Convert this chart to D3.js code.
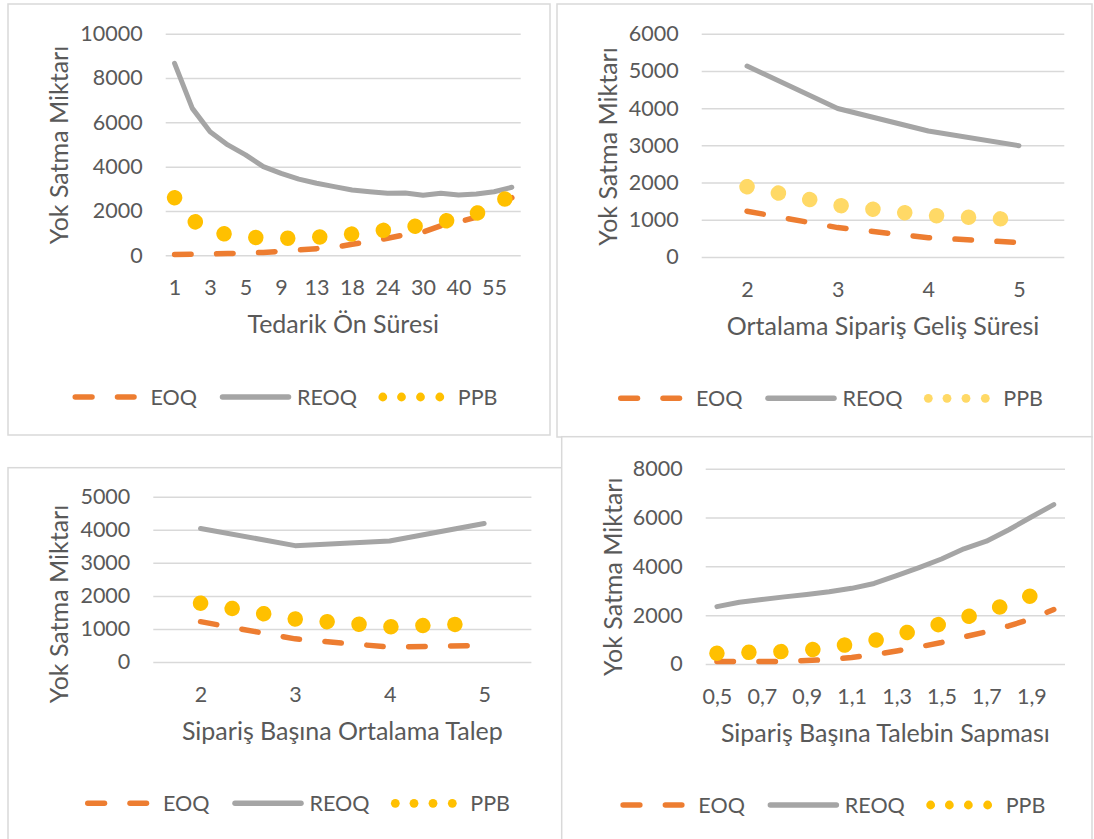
<!DOCTYPE html>
<html>
<head>
<meta charset="utf-8">
<script src="https://cdn.jsdelivr.net/npm/d3@7/dist/d3.min.js"></script>
<style>
  html, body { margin: 0; padding: 0; background: #fff; }
  svg { display: block; font-family: Lato, "Open Sans", sans-serif; }
</style>
</head>
<body>
<svg id="chart" width="1094" height="839"></svg>
<script>
// ---------- DATA ----------
const seriesNames = ["EOQ", "REOQ", "PPB"];
const yAxisTitle = "Yok Satma Miktarı";

// Panel 1: Tedarik Ön Süresi
const p1Categories = ["1","2","3","4","5","7","9","11","13","15","18","21","24","27","30","35","40","50","55","60"];
const p1EOQ  = [40, 45, 60, 80, 100, 130, 180, 240, 300, 360, 500, 620, 770, 930, 1050, 1330, 1500, 1720, 2200, 2600];
const p1REOQ = [8660, 6630, 5580, 4980, 4530, 4000, 3700, 3440, 3250, 3100, 2950, 2870, 2800, 2810, 2710, 2800, 2720, 2770, 2870, 3070];
const p1PPB  = [2600, 1600, 1050, 950, 820, 790, 770, 775, 820, 860, 960, 1050, 1150, 1260, 1350, 1520, 1640, 1900, 2060, 2850];

// Panel 2: Ortalama Sipariş Geliş Süresi
const p2Categories = ["2","3","4","5"];
const p2EOQ  = [1230, 790, 520, 390];
const p2REOQ = [5130, 3990, 3385, 2990];
const p2PPB  = [1890, 1390, 1120, 1000];

// Panel 3: Sipariş Başına Ortalama Talep
const p3Categories = ["2","3","4","5"];
const p3EOQ  = [1220, 700, 450, 500];
const p3REOQ = [4040, 3520, 3660, 4190];
const p3PPB  = [1780, 1300, 1065, 1170];

// Panel 4: Sipariş Başına Talebin Sapması
const p4Categories = ["0,5","0,6","0,7","0,8","0,9","1","1,1","1,2","1,3","1,4","1,5","1,6","1,7","1,8","1,9","2"];
const p4EOQ  = [100, 100, 100, 110, 140, 180, 265, 380, 530, 700, 880, 1110, 1320, 1560, 1850, 2230];
const p4REOQ = [2350, 2530, 2640, 2750, 2850, 2960, 3100, 3300, 3620, 3950, 4300, 4720, 5030, 5500, 6020, 6530];
const p4PPB  = [437, 470, 490, 510, 560, 680, 820, 960, 1200, 1400, 1650, 1900, 2130, 2470, 2800, 3150];

// Axis tick values
const p1YTicks = [0, 2000, 4000, 6000, 8000, 10000];
const p2YTicks = [0, 1000, 2000, 3000, 4000, 5000, 6000];
const p3YTicks = [0, 1000, 2000, 3000, 4000, 5000];
const p4YTicks = [0, 2000, 4000, 6000, 8000];

const xTitles = ["Tedarik Ön Süresi", "Ortalama Sipariş Geliş Süresi", "Sipariş Başına Ortalama Talep", "Sipariş Başına Talebin Sapması"];

// ---------- LAYOUT / STYLE ----------
const TEXT = "#595959", GRID = "#D9D9D9", BORDER = "#D9D9D9";
const C_EOQ = "#ED7D31", C_REOQ = "#A5A5A5";
const FS_TICK = 21.5, FS_TITLE = 25, FS_LEGEND = 21.5;

const panels = [
  { cats: p1Categories, eoq: p1EOQ, reoq: p1REOQ, ppb: p1PPB, yTicks: p1YTicks, every: 2, xTitle: xTitles[0],
    ppbColor: "#FFC000", box: [8, 4, 550, 435], plot: [165.7, 33.7, 520.7, 255.3], yTitleY: 145, legendY: 397 },
  { cats: p2Categories, eoq: p2EOQ, reoq: p2REOQ, ppb: p2PPB, yTicks: p2YTicks, every: 1, xTitle: xTitles[1],
    ppbColor: "#FFD966", box: [557, 4, 1092, 437], plot: [701.7, 33.7, 1064.3, 257], yTitleY: 146.5, legendY: 398.3 },
  { cats: p3Categories, eoq: p3EOQ, reoq: p3REOQ, ppb: p3PPB, yTicks: p3YTicks, every: 1, xTitle: xTitles[2],
    ppbColor: "#FFC000", box: [8, 467.7, 575, 870], plot: [153.3, 496.7, 531.4, 662], yTitleY: 604, legendY: 803.3 },
  { cats: p4Categories, eoq: p4EOQ, reoq: p4REOQ, ppb: p4PPB, yTicks: p4YTicks, every: 2, xTitle: xTitles[3],
    ppbColor: "#FFC000", box: [561.7, 436.7, 1092, 870], plot: [705.7, 468.7, 1065, 664], yTitleY: 576.7, legendY: 805 }
];

const svg = d3.select("#chart");
svg.append("rect").attr("width", 1094).attr("height", 839).attr("fill", "#fff");

panels.forEach(p => {
  const [bx0, by0, bx1, by1] = p.box;
  const [px0, py0, px1, py1] = p.plot;
  const g = svg.append("g");

  g.append("rect")
    .attr("x", bx0).attr("y", by0).attr("width", bx1 - bx0).attr("height", by1 - by0)
    .attr("fill", "#fff").attr("stroke", BORDER).attr("stroke-width", 1.5);

  const x = d3.scalePoint().domain(p.cats).range([px0, px1]).padding(0.5);
  const y = d3.scaleLinear().domain([0, d3.max(p.yTicks)]).range([py1, py0]);

  // Y axis with gridlines
  const ya = g.append("g").attr("transform", `translate(${px0},0)`)
    .call(d3.axisLeft(y).tickValues(p.yTicks).tickSize(-(px1 - px0)).tickPadding(23).tickFormat(d3.format("d")));
  ya.select(".domain").remove();
  ya.selectAll(".tick line").attr("stroke", GRID).attr("stroke-width", 1.5);
  ya.selectAll(".tick text").attr("fill", TEXT).attr("font-size", FS_TICK).attr("font-family", "Lato");

  // X axis labels
  const xa = g.append("g").attr("transform", `translate(0,${py1})`)
    .call(d3.axisBottom(x).tickSize(0).tickFormat((d, i) => (i % p.every === 0 ? d : "")));
  xa.select(".domain").remove();
  xa.selectAll(".tick text").attr("y", 32).attr("dy", "0.35em")
    .attr("fill", TEXT).attr("font-size", FS_TICK).attr("font-family", "Lato");

  const line = d3.line().x((d, i) => x(p.cats[i])).y(d => y(d));

  g.append("path").datum(p.eoq).attr("d", line)
    .attr("fill", "none").attr("stroke", C_EOQ).attr("stroke-width", 5.5)
    .attr("stroke-dasharray", "16.5 25.5").attr("stroke-linecap", "round");
  g.append("path").datum(p.reoq).attr("d", line)
    .attr("fill", "none").attr("stroke", C_REOQ).attr("stroke-width", 5)
    .attr("stroke-linecap", "round").attr("stroke-linejoin", "round");
  g.append("path").datum(p.ppb).attr("d", line)
    .attr("fill", "none").attr("stroke", p.ppbColor).attr("stroke-width", 15.5)
    .attr("stroke-dasharray", "0.01 31.99").attr("stroke-linecap", "round");

  // Axis titles
  g.append("text")
    .attr("transform", `translate(${bx0 + 60},${p.yTitleY}) rotate(-90)`)
    .attr("text-anchor", "middle").attr("fill", TEXT).attr("font-size", FS_TITLE)
    .text(yAxisTitle);
  g.append("text")
    .attr("x", (px0 + px1) / 2).attr("y", py1 + 78)
    .attr("text-anchor", "middle").attr("fill", TEXT).attr("font-size", FS_TITLE)
    .text(p.xTitle);

  // Legend
  const S = (bx0 + bx1) / 2 + 4.5 - 211;
  const ly = p.legendY;
  const lg = g.append("g");
  [[2.75, 19.5], [45, 61.5]].forEach(([a, b]) => {
    lg.append("line").attr("x1", S + a).attr("x2", S + b).attr("y1", ly).attr("y2", ly)
      .attr("stroke", C_EOQ).attr("stroke-width", 5.5).attr("stroke-linecap", "round");
  });
  lg.append("text").attr("x", S + 78).attr("y", ly).attr("dy", "0.35em")
    .attr("fill", TEXT).attr("font-size", FS_LEGEND).text(seriesNames[0]);
  lg.append("line").attr("x1", S + 150).attr("x2", S + 216).attr("y1", ly).attr("y2", ly)
    .attr("stroke", C_REOQ).attr("stroke-width", 5.5).attr("stroke-linecap", "round");
  lg.append("text").attr("x", S + 224.5).attr("y", ly).attr("dy", "0.35em")
    .attr("fill", TEXT).attr("font-size", FS_LEGEND).text(seriesNames[1]);
  [310.3, 329, 348, 367.3].forEach(cx => {
    lg.append("circle").attr("cx", S + cx).attr("cy", ly).attr("r", 4.4).attr("fill", p.ppbColor);
  });
  lg.append("text").attr("x", S + 385.3).attr("y", ly).attr("dy", "0.35em")
    .attr("fill", TEXT).attr("font-size", FS_LEGEND).text(seriesNames[2]);
});
</script>
</body>
</html>
